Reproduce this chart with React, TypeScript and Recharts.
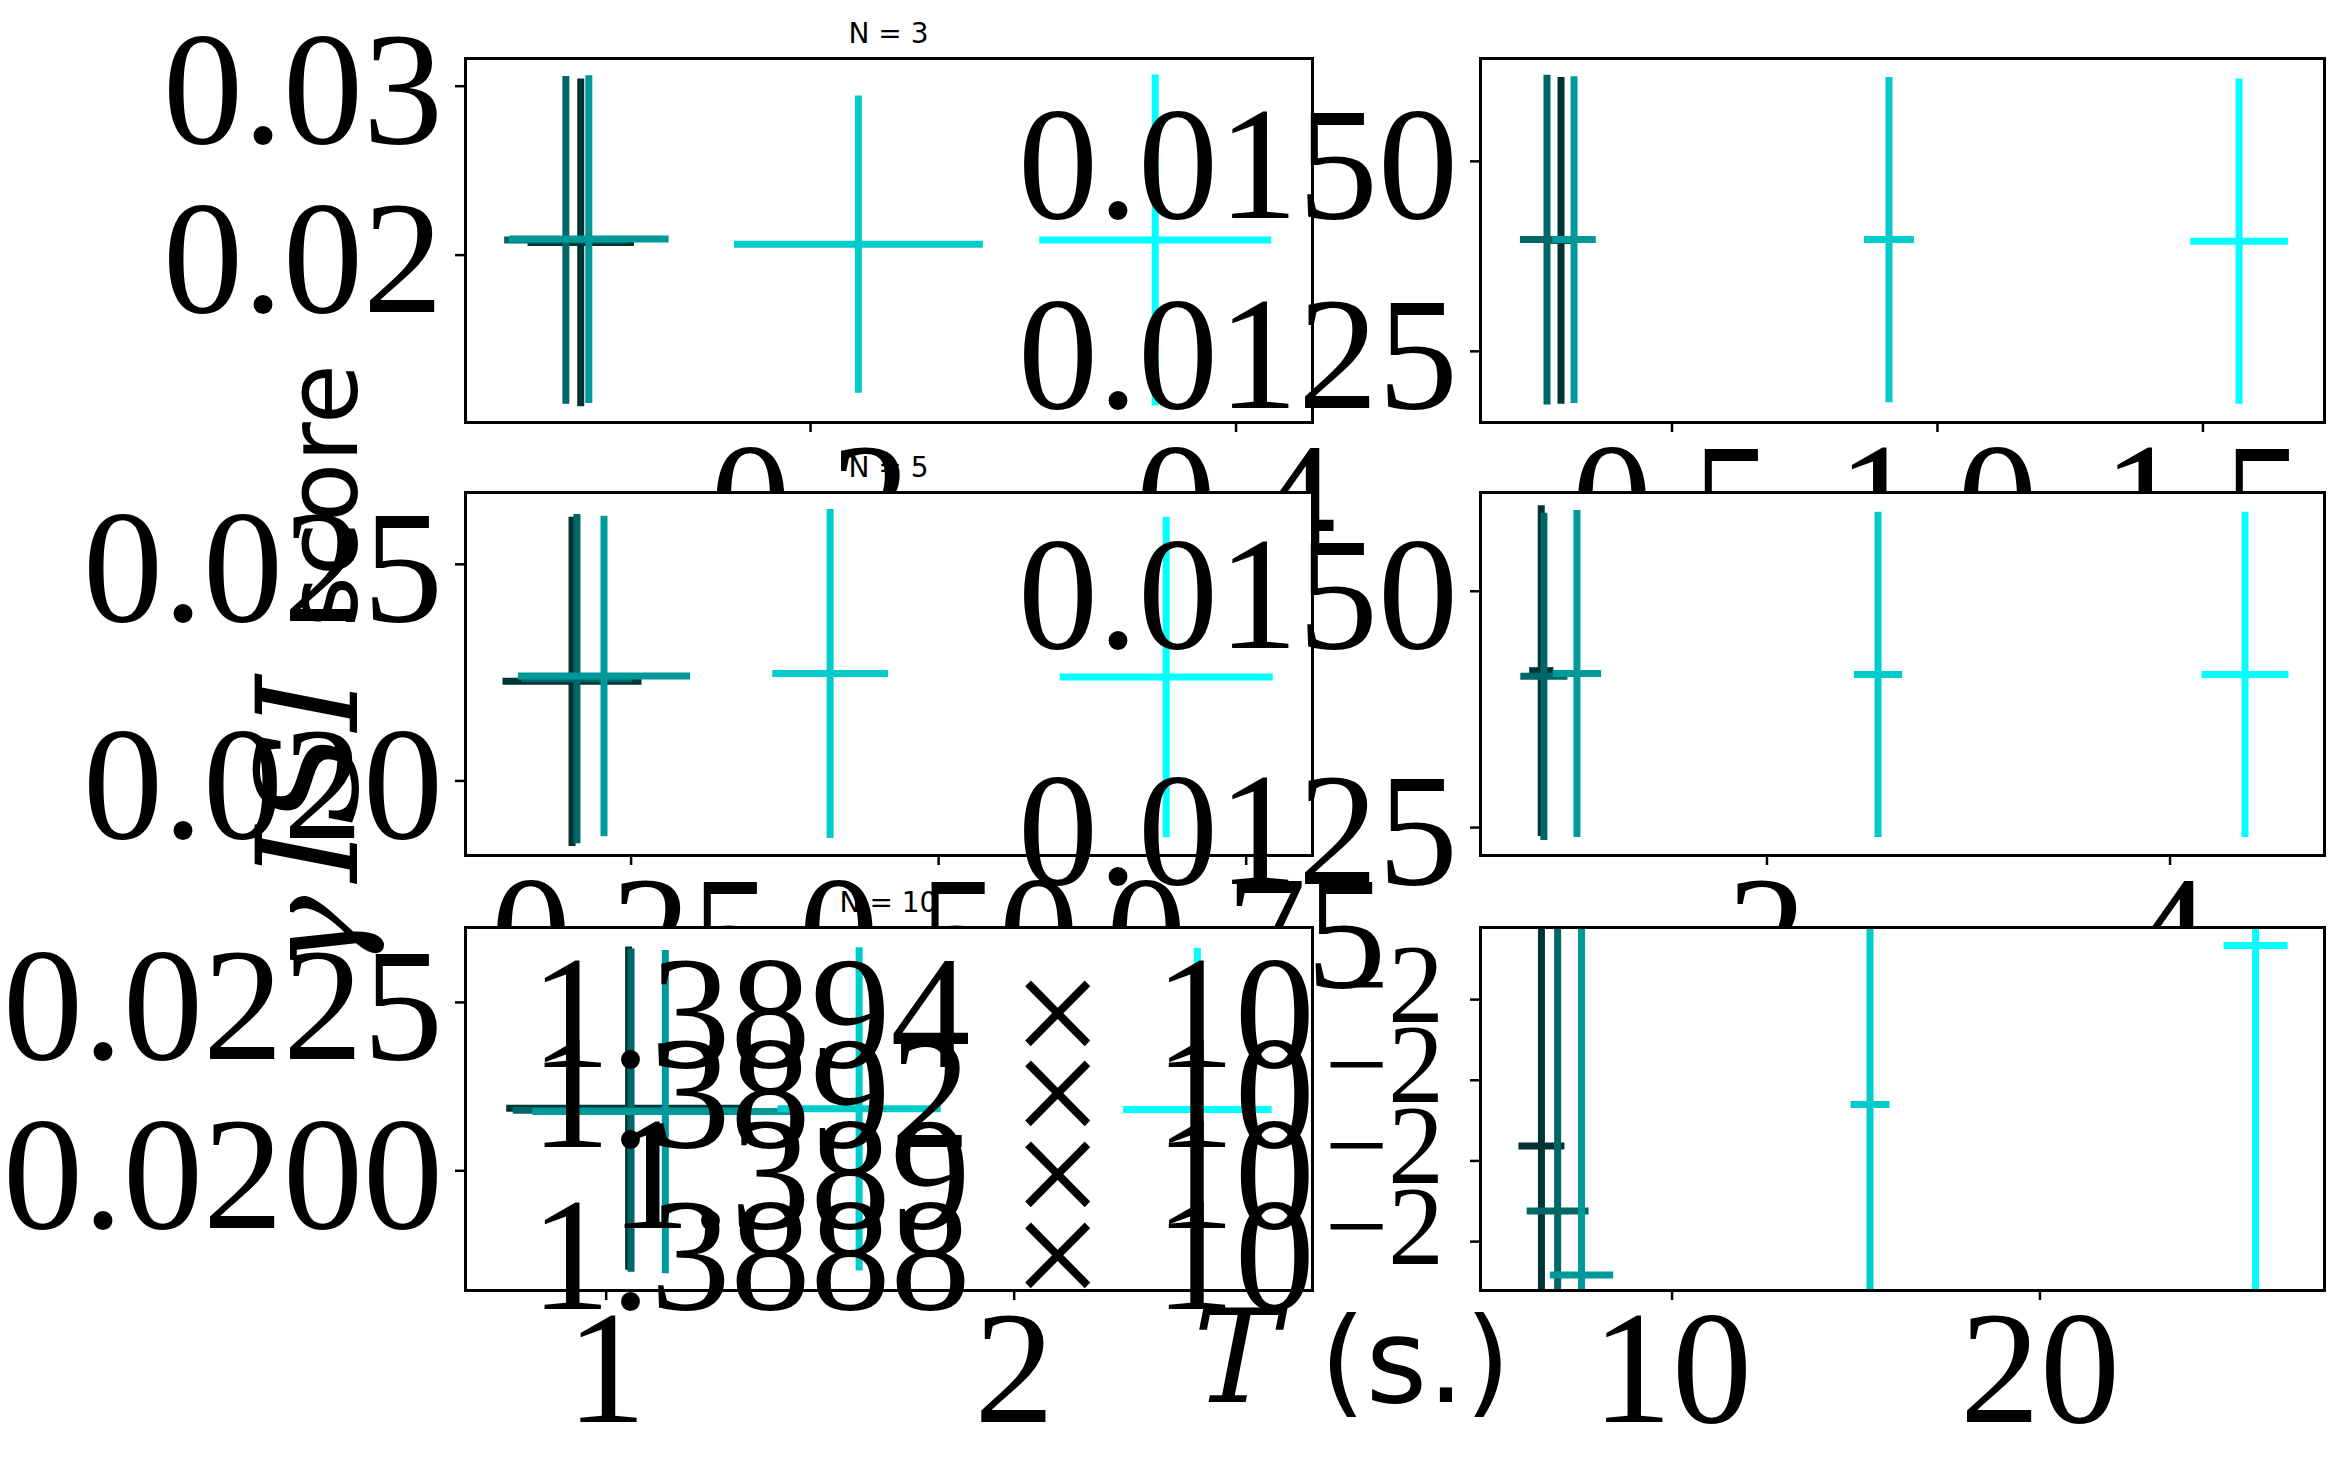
import React from 'react';
import { ScatterChart, Scatter, XAxis, YAxis, ErrorBar, CartesianGrid } from 'recharts';

const PAGE_W = 2345;
const PAGE_H = 1478;

const seriesColors = ['#003333', '#006666', '#009999', '#00cccc', '#00ffff'];

// N = 3, left panel
const n3LeftX = [0.092, 0.085, 0.0958, 0.2225, 0.362];
const n3LeftXErr = [0.025, 0.029, 0.0375, 0.0585, 0.0545];
const n3LeftY = [0.02075, 0.0209, 0.02095, 0.02065, 0.0209];
const n3LeftYErr = [0.0097, 0.0097, 0.0097, 0.0088, 0.0098];
const n3LeftXTicks = [0.2, 0.4];
const n3LeftYTicks = [0.02, 0.03];

// N = 3, right panel
const n3RightX = [0.291, 0.2646, 0.3155, 0.9087, 1.568];
const n3RightXErr = [0.02, 0.051, 0.041, 0.047, 0.092];
const n3RightY = [0.01396, 0.01397, 0.01397, 0.01397, 0.01395];
const n3RightYErr = [0.00215, 0.00217, 0.00215, 0.00214, 0.00214];
const n3RightXTicks = [0.5, 1.0, 1.5];
const n3RightYTicks = [0.0125, 0.015];

// N = 5, left panel
const n5LeftX = [0.202, 0.206, 0.228, 0.4118, 0.685];
const n5LeftXErr = [0.0565, 0.045, 0.07, 0.047, 0.0866];
const n5LeftY = [0.0223, 0.02236, 0.02242, 0.02248, 0.0224];
const n5LeftYErr = [0.0038, 0.0038, 0.0037, 0.0038, 0.0037];
const n5LeftXTicks = [0.25, 0.5, 0.75];
const n5LeftYTicks = [0.02, 0.025];

// N = 5, right panel
const n5RightX = [0.88, 0.893, 1.057, 2.551, 4.372];
const n5RightXErr = [0.06, 0.117, 0.12, 0.12, 0.216];
const n5RightY = [0.01416, 0.0141, 0.01413, 0.01412, 0.01412];
const n5RightYErr = [0.00175, 0.00173, 0.00173, 0.00172, 0.00172];
const n5RightXTicks = [2, 4];
const n5RightYTicks = [0.0125, 0.015];

// N = 10, left panel
const n10LeftX = [1.055, 1.061, 1.145, 1.62, 2.449];
const n10LeftXErr = [0.3, 0.29, 0.326, 0.2, 0.182];
const n10LeftY = [0.02093, 0.0209, 0.02088, 0.02092, 0.02091];
const n10LeftYErr = [0.0024, 0.0024, 0.0024, 0.0024, 0.0024];
const n10LeftXTicks = [1, 2];
const n10LeftYTicks = [0.02, 0.0225];

// N = 10, right panel
const n10RightX = [6.45, 6.89, 7.54, 15.38, 25.86];
const n10RightXErr = [0.625, 0.84, 0.86, 0.53, 0.87];
const n10RightY = [0.01389037, 0.01388876, 0.01388717, 0.0138914, 0.01389534];
const n10RightYErr = [0.00001, 0.00001, 0.00001, 0.00001, 0.00001];
const n10RightXTicks = [10, 20];
const n10RightYTicks = [0.013888, 0.01389, 0.013892, 0.013894];

const titles = ['N = 3', 'N = 5', 'N = 10'];

const TICK_FONT = 'Liberation Serif';
const MATH_FONT = 'DejaVu Serif';
const TICK_SIZE = 160;

type Box = { left: number; top: number; right: number; bottom: number };

type Panel = {
  box: Box;
  xDomain: [number, number];
  yDomain: [number, number];
  xTicks: number[];
  yTicks: number[];
  xDigits: number;
  yDigits: number;
  sci?: boolean;
  x: number[];
  xErr: number[];
  y: number[];
  yErr: number[];
};

const panels: Panel[] = [
  {
    box: { left: 465, top: 58, right: 1312, bottom: 422 },
    xDomain: [0.0376, 0.4357], yDomain: [0.01012, 0.03167],
    xTicks: n3LeftXTicks, yTicks: n3LeftYTicks, xDigits: 1, yDigits: 2,
    x: n3LeftX, xErr: n3LeftXErr, y: n3LeftY, yErr: n3LeftYErr,
  },
  {
    box: { left: 1480, top: 58, right: 2324, bottom: 422 },
    xDomain: [0.1384, 1.728], yDomain: [0.01157, 0.01636],
    xTicks: n3RightXTicks, yTicks: n3RightYTicks, xDigits: 1, yDigits: 4,
    x: n3RightX, xErr: n3RightXErr, y: n3RightY, yErr: n3RightYErr,
  },
  {
    box: { left: 465, top: 492, right: 1312, bottom: 855 },
    xDomain: [0.115, 0.8035], yDomain: [0.01829, 0.02667],
    xTicks: n5LeftXTicks, yTicks: n5LeftYTicks, xDigits: 2, yDigits: 3,
    x: n5LeftX, xErr: n5LeftXErr, y: n5LeftY, yErr: n5LeftYErr,
  },
  {
    box: { left: 1480, top: 492, right: 2324, bottom: 855 },
    xDomain: [0.576, 4.764], yDomain: [0.01221, 0.01605],
    xTicks: n5RightXTicks, yTicks: n5RightYTicks, xDigits: 0, yDigits: 4,
    x: n5RightX, xErr: n5RightXErr, y: n5RightY, yErr: n5RightYErr,
  },
  {
    box: { left: 465, top: 927, right: 1312, bottom: 1290 },
    xDomain: [0.654, 2.73], yDomain: [0.01823, 0.02362],
    xTicks: n10LeftXTicks, yTicks: n10LeftYTicks, xDigits: 0, yDigits: 4,
    x: n10LeftX, xErr: n10LeftXErr, y: n10LeftY, yErr: n10LeftYErr,
  },
  {
    box: { left: 1480, top: 927, right: 2324, bottom: 1290 },
    xDomain: [4.78, 27.72], yDomain: [0.0138868, 0.0138958],
    xTicks: n10RightXTicks, yTicks: n10RightYTicks, xDigits: 0, yDigits: 4, sci: true,
    x: n10RightX, xErr: n10RightXErr, y: n10RightY, yErr: n10RightYErr,
  },
];

const noMarker = () => <g />;

const makeXTick = (digits: number) => (props: any) => {
  const { x, y, payload } = props;
  return (
    <text x={x} y={y} dy="0.71em" textAnchor="middle" fontFamily={TICK_FONT} fontSize={TICK_SIZE} fill="#000">
      {Number(payload.value).toFixed(digits)}
    </text>
  );
};

const makeYTick = (digits: number) => (props: any) => {
  const { x, y, payload } = props;
  return (
    <text x={x} y={y} dy="0.355em" textAnchor="end" fontFamily={TICK_FONT} fontSize={TICK_SIZE} fill="#000">
      {Number(payload.value).toFixed(digits)}
    </text>
  );
};

// offset-style label, e.g. 1.3894 × 10^-2
const sciYTick = (props: any) => {
  const { x, y, payload } = props;
  const mantissa = (Number(payload.value) * 100).toFixed(4).replace(/0+$/, '');
  return (
    <text x={x - 14} y={y} dy="0.42em" textAnchor="end" fontFamily={TICK_FONT} fontSize={TICK_SIZE} fill="#000">
      <tspan>{mantissa}</tspan>
      <tspan dx={42}>×</tspan>
      <tspan dx={52}>10</tspan>
      <tspan dx={10} fontSize={112} dy={-45}>−2</tspan>
    </text>
  );
};

const pointsOf = (p: Panel) =>
  seriesColors.map((_, i) => [{ x: p.x[i], y: p.y[i], xErr: p.xErr[i], yErr: p.yErr[i] }]);

// background, ticks and tick labels; drawn on a page-sized surface so labels can spill over
function PanelFrame({ p }: { p: Panel }) {
  const { box } = p;
  const pts = pointsOf(p);
  return (
    <div style={{ position: 'absolute', left: 0, top: 0 }}>
      <ScatterChart
        width={PAGE_W}
        height={PAGE_H}
        margin={{ top: box.top, left: box.left - 1, right: PAGE_W - box.right, bottom: PAGE_H - box.bottom - 1 }}
      >
        <CartesianGrid horizontal={false} vertical={false} fill="#ffffff" fillOpacity={1} />
        <XAxis
          type="number"
          dataKey="x"
          domain={p.xDomain}
          ticks={p.xTicks}
          interval={0}
          allowDataOverflow
          height={1}
          axisLine={false}
          tickSize={10}
          tickMargin={8}
          tickLine={{ stroke: '#000', strokeWidth: 2.5 }}
          tick={makeXTick(p.xDigits)}
        />
        <YAxis
          type="number"
          dataKey="y"
          domain={p.yDomain}
          ticks={p.yTicks}
          interval={0}
          allowDataOverflow
          width={1}
          axisLine={false}
          tickSize={10}
          tickMargin={12}
          tickLine={{ stroke: '#000', strokeWidth: 2.5 }}
          tick={p.sci ? sciYTick : makeYTick(p.yDigits)}
        />
        {pts.map((d, i) => (
          <Scatter key={i} data={d} shape={noMarker} isAnimationActive={false} />
        ))}
      </ScatterChart>
    </div>
  );
}

// the error-bar crosses, on a surface the size of the plot area so they are clipped at the spines
function PanelData({ p }: { p: Panel }) {
  const { box } = p;
  const w = box.right - box.left;
  const h = box.bottom - box.top;
  const pts = pointsOf(p);
  return (
    <div style={{ position: 'absolute', left: box.left, top: box.top, width: w, height: h, overflow: 'hidden' }}>
      <ScatterChart width={w} height={h} margin={{ top: 0, right: 0, bottom: 0, left: 0 }}>
        <XAxis type="number" dataKey="x" domain={p.xDomain} allowDataOverflow hide />
        <YAxis type="number" dataKey="y" domain={p.yDomain} allowDataOverflow hide />
        {pts.map((d, i) => (
          <Scatter key={i} data={d} fill={seriesColors[i]} shape={noMarker} isAnimationActive={false}>
            <ErrorBar dataKey="xErr" direction="x" width={0} stroke={seriesColors[i]} strokeWidth={7} isAnimationActive={false} />
            <ErrorBar dataKey="yErr" direction="y" width={0} stroke={seriesColors[i]} strokeWidth={7} isAnimationActive={false} />
          </Scatter>
        ))}
      </ScatterChart>
    </div>
  );
}

function PanelSpines({ p }: { p: Panel }) {
  const { box } = p;
  return (
    <div
      style={{
        position: 'absolute',
        left: box.left - 1.5,
        top: box.top - 1.5,
        width: box.right - box.left + 3,
        height: box.bottom - box.top + 3,
        border: '3px solid #000',
        boxSizing: 'border-box',
      }}
    />
  );
}

export default function App() {
  return (
    <div style={{ position: 'absolute', left: 0, top: 0, width: PAGE_W, height: PAGE_H, background: '#fff', overflow: 'hidden' }}>
      {panels.map((p, i) => (
        <React.Fragment key={i}>
          <PanelFrame p={p} />
          <PanelData p={p} />
          <PanelSpines p={p} />
        </React.Fragment>
      ))}
      <svg width={PAGE_W} height={PAGE_H} style={{ position: 'absolute', left: 0, top: 0 }}>
        {titles.map((t, i) => (
          <text
            key={t}
            x={(panels[i * 2].box.left + panels[i * 2].box.right) / 2}
            y={panels[i * 2].box.top - 15}
            textAnchor="middle"
            fontFamily="DejaVu Sans"
            fontSize={28}
            fill="#000"
          >
            {t}
          </text>
        ))}
        <text transform="rotate(-90 357 364)" x={357} y={364} textAnchor="end" fill="#000">
          <tspan fontFamily={MATH_FONT} fontStyle="italic" fontSize={130}>γ</tspan>
          <tspan fontFamily={MATH_FONT} fontStyle="italic" fontSize={140} dx={14}>ISI</tspan>
          <tspan fontFamily="DejaVu Sans" fontSize={98} dx={48}>score</tspan>
        </text>
        <text x={1352} y={1402} textAnchor="middle" fill="#000">
          <tspan fontFamily={MATH_FONT} fontStyle="italic" fontSize={130}>T</tspan>
          <tspan fontFamily="DejaVu Sans" fontSize={118} dx={40}>(s.)</tspan>
        </text>
      </svg>
    </div>
  );
}
